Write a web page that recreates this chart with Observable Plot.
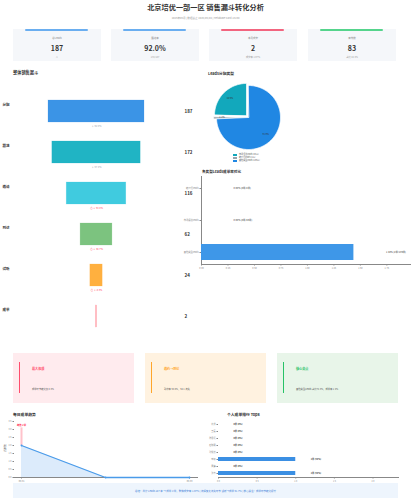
<!DOCTYPE html>
<html><head><meta charset="utf-8">
<script src="https://cdn.jsdelivr.net/npm/d3@7"></script>
<script src="https://cdn.jsdelivr.net/npm/@observablehq/plot@0.6"></script>
<style>
body{margin:0;background:#fff;font-family:"Noto Sans CJK SC","Noto Sans",sans-serif;}
#root{position:relative;width:411px;height:500px;overflow:hidden;background:#fff;}
.abs{position:absolute;}
.t{position:absolute;white-space:nowrap;line-height:1;}
</style></head>
<body><div id="root"></div>
<script>
// ---------- data ----------
const titleText = "北京培优一部一区  销售漏斗转化分析";
const subtitleText = "2026年06月  |  数据截止 2026/06/04  |  Metabase Card 13190";
const kpiLabels = ["总Leads", "跟进率", "本月成交", "有效数"];
const kpiValues = ["187", "92.0%", "2", "83"];
const kpiSubs = ["人", "172/187", "成交率 1.07%", "占比 44.4%"];
const kpiColors = ["#6aaef0", "#6aaef0", "#f2657f", "#55d48c"];

const stages = ["分配", "跟进", "邀请", "到访", "试听", "成单"];
const stageValues = [187, 172, 116, 62, 24, 2];
const stageColors = ["#3b94e6", "#20b4c4", "#40cbdf", "#7cc37f", "#ffb03f", "#ff96a0"];

const leadTypes = ["市场渠道leads", "转介绍leads", "其他类型leads"];
const leadCounts = [46, 2, 139];
const leadColors = ["#12a8bc", "#98a3ab", "#2087e3"];

const rateCats = ["转介绍leads", "市场渠道leads", "其他类型leads"];
const rateWon = [0, 0, 2];
const rateTotal = [2, 46, 139];

const insightTitles = ["最大瓶颈", "邀约→到访", "核心亮点"];
const insightTexts = ["成单环节转化仅 8.3%", "到访率 53.4%，54人流失", "其他类型Leads 占比74.3%，成单率 1.4%"];
const insightColors = ["#ff4d6d", "#ffa62b", "#27c267"];
const insightBgs = ["#ffebee", "#fff2e0", "#e8f5e9"];

const days = ["06/01", "06/02", "06/03"];
const dailyDeals = [2, 0, 0];

const repNames = ["刘洋", "王磊", "陈思远", "赵晓明", "孙悦然", "李娜", "周婷", "张伟"];
const repDeals = [0, 0, 0, 0, 0, 1, 0, 1];

const footerText = "总结：共计 Leads 187 条 → 成单 2 单，整体成交率 1.07%  |  流程最大流失环节 试听→成单 91.7%  |  核心关注：成单环节转化提升";

// ---------- helpers ----------
const root = document.getElementById("root");
const FONT = '"Noto Sans CJK SC","Noto Sans",sans-serif';
function box(x, y, w, h, bg, extra) {
  const d = document.createElement("div");
  d.className = "abs";
  Object.assign(d.style, {left: x + "px", top: y + "px", width: w + "px", height: h + "px", background: bg}, extra || {});
  root.appendChild(d); return d;
}
function txt(x, y, s, size, color, weight, anchor, extra) {
  const d = document.createElement("div");
  d.className = "t";
  d.textContent = s;
  const tx = anchor === "middle" ? "-50%" : anchor === "end" ? "-100%" : "0";
  Object.assign(d.style, {left: x + "px", top: y + "px", fontSize: size + "px", color, fontWeight: weight || "normal",
    transform: `translate(${tx},-50%)`}, extra || {});
  root.appendChild(d); return d;
}
function place(svg, x, y) {
  svg.style.position = "absolute"; svg.style.left = x + "px"; svg.style.top = y + "px";
  root.appendChild(svg);
}
const baseStyle = {fontFamily: FONT, fontSize: "2.4px", background: "transparent", overflow: "visible", color: "#888"};

// ---------- header ----------
txt(205.5, 8, titleText, 7.2, "#333", "bold", "middle");
txt(205.5, 18, subtitleText, 2.6, "#999", "normal", "middle");

const cardX = [13, 111, 209, 308];
cardX.forEach((x, i) => {
  box(x, 29, 88, 32, "#f5f7fa");
  box(x + 12, 29, 63, 1.8, kpiColors[i], {borderRadius: "1px"});
  txt(x + 44, 38, kpiLabels[i], 2.5, "#888", "normal", "middle");
  txt(x + 44, 48, kpiValues[i], 7, "#333", "bold", "middle");
  txt(x + 44, 57, kpiSubs[i], 2.3, "#999", "normal", "middle");
});

// ---------- funnel ----------
txt(13, 72, "整体销售漏斗", 4.2, "#333", "bold", "start");
const funnelData = stages.map((s, i) => ({stage: s, value: stageValues[i], color: stageColors[i]}));
const convData = funnelData.slice(0, -1).map((d, i) => {
  const r = stageValues[i + 1] / d.value * 100;
  return {stage: d.stage, label: (r < 60 ? "⚠ ↓ " : "↓ ") + r.toFixed(1) + "%", color: r < 60 ? "#ff3b5c" : "#9aa3ad"};
});
const maxV = d3.max(stageValues);
place(Plot.plot({
  width: 205, height: 270, margin: 0,
  x: {domain: [-maxV / 2, maxV / 2], range: [48, 144], axis: null},
  y: {domain: stages, range: [-0.4, 268.4], padding: 0.46, axis: null},
  color: {type: "identity"},
  style: baseStyle,
  marks: [
    Plot.barX(funnelData, {y: "stage", x1: d => -d.value / 2, x2: d => d.value / 2, fill: "color", stroke: "color", strokeOpacity: 0.35, strokeWidth: 0.6}),
    Plot.text(funnelData, {y: "stage", frameAnchor: "left", dx: 2, dy: -7, text: "stage", textAnchor: "start", fontSize: 3.5, fontWeight: "bold", fill: "#333"}),
    Plot.text(funnelData, {y: "stage", frameAnchor: "right", dx: -21, text: d => String(d.value), textAnchor: "start", fontSize: 4.5, fontWeight: "bold", fill: "#333"}),
    Plot.text(convData, {y: "stage", x: 0, dy: 15, text: "label", fill: "color", fontSize: 2.4})
  ]
}), 0, 80);

// ---------- pie ----------
txt(208, 74, "Leads分配类型", 3.8, "#333", "bold", "start");
const leadTotal = d3.sum(leadCounts);
const pieRows = [], pieLabels = [];
let cum = 0;
leadCounts.forEach((v, i) => {
  const a0 = -cum / leadTotal * 2 * Math.PI;
  const a1 = -(cum + v) / leadTotal * 2 * Math.PI;
  cum += v;
  const mid = (a0 + a1) / 2;
  const off = i < 2 ? 0.09 : 0;
  const ox = off * Math.sin(mid), oy = -off * Math.cos(mid);
  pieRows.push({slice: leadTypes[i], x: ox, y: oy, color: leadColors[i]});
  const n = Math.max(4, Math.ceil(Math.abs(a1 - a0) / 0.03));
  for (let k = 0; k <= n; k++) {
    const a = a0 + (a1 - a0) * k / n;
    pieRows.push({slice: leadTypes[i], x: ox + Math.sin(a), y: oy - Math.cos(a), color: leadColors[i]});
  }
  const lr = 0.74;
  pieLabels.push({x: ox + lr * Math.sin(mid), y: oy - lr * Math.cos(mid), text: (v / leadTotal * 100).toFixed(1) + "%"});
});
place(Plot.plot({
  width: 95, height: 90, margin: 0,
  x: {domain: [-1.5, 1.5], range: [-5, 91], axis: null},
  y: {domain: [-1.5, 1.5], range: [-11, 85], axis: null},
  color: {type: "identity"},
  style: baseStyle,
  marks: [
    Plot.line(pieRows, {x: "x", y: "y", z: "slice", fill: "color", stroke: "#fff", strokeWidth: 0.7, curve: "linear-closed"}),
    Plot.text(pieLabels, {x: "x", y: "y", text: "text", fontSize: 2.3, fill: "#333"})
  ]
}), 205, 80);
leadTypes.forEach((t, i) => {
  box(233, 154 + i * 3.2, 4, 2, leadColors[i]);
  txt(239, 155 + i * 3.2, `${t} (${leadCounts[i]}人)`, 2.1, "#555", "normal", "start");
});

// ---------- rate bars ----------
txt(202, 172, "各类型Leads成单率对比", 3.6, "#333", "bold", "start");
const rateData = rateCats.map((c, i) => ({cat: c, rate: rateWon[i] / rateTotal[i] * 100,
  label: `${(rateWon[i] / rateTotal[i] * 100).toFixed(2)}% (${rateWon[i]}单/${rateTotal[i]}单)`}));
place(Plot.plot({
  width: 251, height: 100, marginLeft: 41, marginRight: 0, marginTop: 0, marginBottom: 12,
  x: {domain: [0, 1.86], range: [41, 238], ticks: d3.range(0, 1.76, 0.25), tickFormat: ".2f", tickSize: 1.5, tickPadding: 1.5, line: true, label: null},
  y: {domain: rateCats, range: [0, 88], paddingInner: 0.5, paddingOuter: 0.1, tickSize: 1.5, tickPadding: 1.5, line: true, label: null},
  style: {...baseStyle, fontSize: "2.3px"},
  marks: [
    Plot.barX(rateData, {y: "cat", x: "rate", fill: "#3e97e8"}),
    Plot.text(rateData, {y: "cat", x: "rate", dx: 32, text: "label", textAnchor: "start", fontSize: 2.4, fill: "#333"})
  ]
}), 160, 176);

// ---------- insight cards ----------
[13, 145, 277].forEach((x, i) => {
  box(x, 353, 121, 50, insightBgs[i]);
  box(x + 6, 362, 1.4, 31, insightColors[i]);
  txt(x + 19, 369, insightTitles[i], 3.1, insightColors[i], "bold", "start");
  txt(x + 19, 389, insightTexts[i], 2.3, "#555", "normal", "start");
});

// ---------- daily trend ----------
txt(13, 415, "每日成单趋势", 3.8, "#333", "bold", "start");
txt(5, 448, "成单数", 2.3, "#666", "normal", "middle", {transform: "translate(-50%,-50%) rotate(-90deg)"});
const daily = days.map((d, i) => ({day: d, v: dailyDeals[i]}));
const peak = daily.reduce((a, b) => b.v > a.v ? b : a);
place(Plot.plot({
  width: 205, height: 68, marginLeft: 14, marginRight: 8, marginTop: 0, marginBottom: 9,
  x: {type: "point", domain: days, range: [21, 189], padding: 0, ticks: [days[0], days[days.length - 1]], tickSize: 1.5, tickPadding: 1.5, line: true, label: null},
  y: {domain: [0, 3.5], range: [59, 3], ticks: d3.range(0, 3.51, 0.5), tickFormat: ".1f", tickSize: 1.5, tickPadding: 1.5, label: null},
  style: {...baseStyle, fontSize: "2.2px"},
  marks: [
    Plot.areaY(daily, {x: "day", y: "v", fill: "#dcebfb"}),
    Plot.ruleX([peak], {x: "day", y1: "v", y2: d => d.v + 1.1, stroke: "#ffc2cb", strokeWidth: 2}),
    Plot.line(daily, {x: "day", y: "v", stroke: "#4a9be9", strokeWidth: 1.3}),
    Plot.dot(daily, {x: "day", y: "v", r: 0.9, fill: "#4a9be9"}),
    Plot.text([peak], {x: "day", y: "v", dy: -20, text: d => `峰值 ${d.v}单`, fill: "#ff3355", fontWeight: "bold", fontSize: 2.4})
  ]
}), 0, 418);

// ---------- rep ranking ----------
txt(227, 415, "个人成单排行 Top8", 3.8, "#333", "bold", "start");
const dealTotal = d3.sum(repDeals);
const repData = repNames.map((n, i) => ({name: n, v: repDeals[i], label: `${repDeals[i]}单 (${(repDeals[i] / dealTotal * 100).toFixed(0)}%)`}));
place(Plot.plot({
  width: 216, height: 68, marginLeft: 23, marginRight: 13, marginTop: 0, marginBottom: 9,
  x: {domain: [0, 2.33], range: [23, 203], ticks: [0, 0.5, 1, 1.5, 2], tickFormat: ".1f", tickSize: 1.5, tickPadding: 1.5, line: true, label: null},
  y: {domain: repNames, range: [3, 59], paddingInner: 0.4, paddingOuter: 0.2, tickSize: 1.5, tickPadding: 1.5, label: null},
  style: {...baseStyle, fontSize: "2.1px"},
  marks: [
    Plot.barX(repData, {y: "name", x: "v", fill: "#3b8fe3"}),
    Plot.text(repData, {y: "name", x: "v", dx: 15, text: "label", textAnchor: "start", fontSize: 2.2, fill: "#333", fontWeight: "bold"})
  ]
}), 195, 418);

// ---------- footer ----------
box(13, 483, 385, 15, "#eef5fd");
txt(205.5, 490.5, footerText, 2.5, "#3b7cd6", "normal", "middle");
</script>
</body></html>
